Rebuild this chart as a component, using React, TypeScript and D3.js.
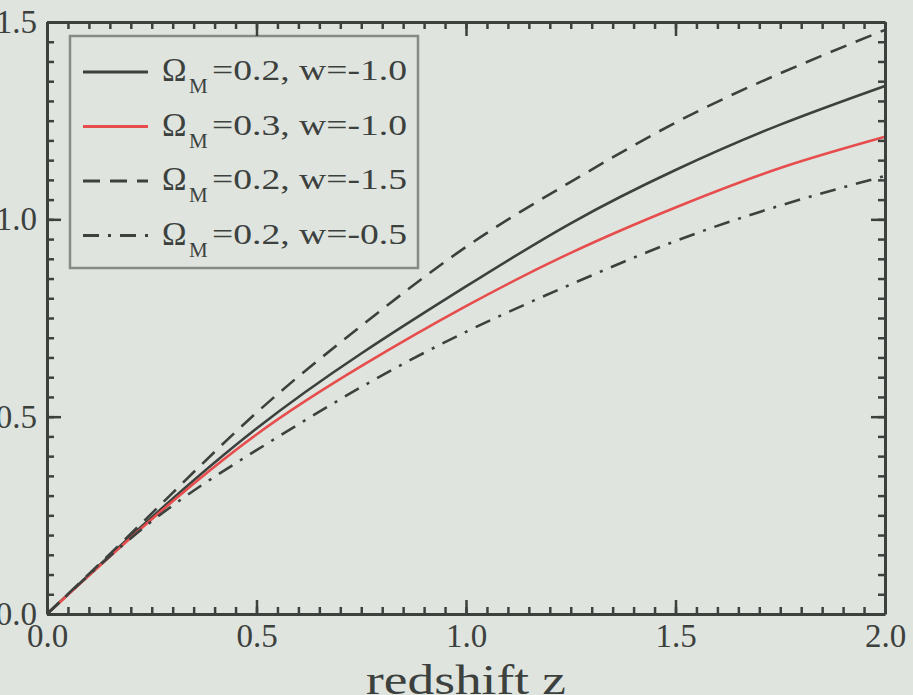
import * as d3 from 'd3';
import React, { useEffect, useRef } from 'react';

const width = 913;
const height = 695;
const margin = { top: 22, right: 28, bottom: 81, left: 47 };
const bg = '#dfe4df';
const ink = '#3c413e';

// redshift samples and H0*D/c
const redshift = [0, 0.25, 0.5, 0.75, 1.0, 1.25, 1.5, 1.75, 2.0];
const om02w10 = [0, 0.245, 0.47, 0.66, 0.83, 0.99, 1.125, 1.24, 1.338];
const om03w10 = [0, 0.24, 0.455, 0.628, 0.78, 0.915, 1.03, 1.13, 1.209];
const om02w15 = [0, 0.255, 0.51, 0.73, 0.93, 1.095, 1.245, 1.37, 1.48];
const om02w05 = [0, 0.235, 0.415, 0.575, 0.715, 0.835, 0.945, 1.035, 1.11];

const omegaLabels = ['0.2', '0.3', '0.2', '0.2'];
const wLabels = ['-1.0', '-1.0', '-1.5', '-0.5'];

const xTicks = [0, 0.5, 1.0, 1.5, 2.0];
const yTicks = [0, 0.5, 1.0, 1.5];

const series = [
  { values: om02w10, color: ink, dash: null },
  { values: om03w10, color: '#e64d4c', dash: null },
  { values: om02w15, color: ink, dash: '17,10' },
  { values: om02w05, color: ink, dash: '16,9,3,9' },
];

const serif = '"Liberation Serif", "Times New Roman", Times, serif';

const xScale = d3.scaleLinear().domain([0, 2]).range([margin.left, width - margin.right]);
const yScale = d3.scaleLinear().domain([0, 1.5]).range([height - margin.bottom, margin.top]);

const lineGenerator = d3.line<number>()
  .x((d, i) => xScale(redshift[i]))
  .y(d => yScale(d))
  .curve(d3.curveNatural);

const drawAxis = (g, axis, transform, major, minor, labels) => {
  const maj = g.append('g').attr('transform', transform)
    .call(axis.tickValues(major).tickSize(-14).tickSizeOuter(0).tickPadding(10)
      .tickFormat(labels ? d3.format('.1f') : () => ''));
  maj.select('.domain').attr('stroke', ink).attr('stroke-width', 3);
  maj.selectAll('.tick line').attr('stroke', ink).attr('stroke-width', 2.5);
  maj.selectAll('text')
    .attr('font-family', serif)
    .attr('font-size', 33)
    .attr('fill', ink);

  const mnr = g.append('g').attr('transform', transform)
    .call(axis.tickValues(minor).tickSize(-7).tickSizeOuter(0).tickFormat(() => ''));
  mnr.select('.domain').remove();
  mnr.selectAll('.tick line').attr('stroke', ink).attr('stroke-width', 2.5);
};

const App = () => {
  const axesRef = useRef<SVGGElement>(null);

  useEffect(() => {
    const g = d3.select(axesRef.current);
    g.selectAll('*').remove();
    const minorX = d3.range(0, 41).map(i => i * 0.05);
    const minorY = d3.range(0, 31).map(i => i * 0.05);
    drawAxis(g, d3.axisBottom(xScale), `translate(0,${yScale(0)})`, xTicks, minorX, true);
    drawAxis(g, d3.axisTop(xScale), `translate(0,${yScale(1.5)})`, xTicks, minorX, false);
    drawAxis(g, d3.axisLeft(yScale), `translate(${xScale(0)},0)`, yTicks, minorY, true);
    drawAxis(g, d3.axisRight(yScale), `translate(${xScale(2)},0)`, yTicks, minorY, false);
  }, []);

  const legend = { x: 70, y: 36, w: 348, h: 232, row0: 72, rowStep: 54.5 };

  return (
    <svg width={width} height={height} style={{ position: 'absolute', left: 0, top: 0 }}>
      <rect width={width} height={height} fill={bg} />
      {series.map((s, i) => (
        <path key={i} d={lineGenerator(s.values)} fill="none" stroke={s.color}
          strokeWidth={2.6} strokeDasharray={s.dash || undefined} />
      ))}
      <rect x={legend.x} y={legend.y} width={legend.w} height={legend.h}
        fill={bg} stroke="#868b88" strokeWidth={2.5} />
      {series.map((s, i) => {
        const ly = legend.row0 + i * legend.rowStep;
        return (
          <g key={i} fill={ink} fontFamily={serif}>
            <line x1={83} x2={148} y1={ly} y2={ly} stroke={s.color} strokeWidth={2.8}
              strokeDasharray={s.dash || undefined} />
            <text x={162} y={ly + 9} fontSize={33}>Ω</text>
            <text x={189} y={ly + 21} fontSize={21}>M</text>
            <text x={212} y={ly + 8} fontSize={29} textLength={195} lengthAdjust="spacingAndGlyphs">
              {`=${omegaLabels[i]}, w=${wLabels[i]}`}
            </text>
          </g>
        );
      })}
      <g ref={axesRef} />
      <text x={(xScale(0) + xScale(2)) / 2} y={694} textAnchor="middle" fontFamily={serif}
        fontSize={43} textLength={200} lengthAdjust="spacingAndGlyphs" fill={ink}>redshift z</text>
    </svg>
  );
};

export default App;
